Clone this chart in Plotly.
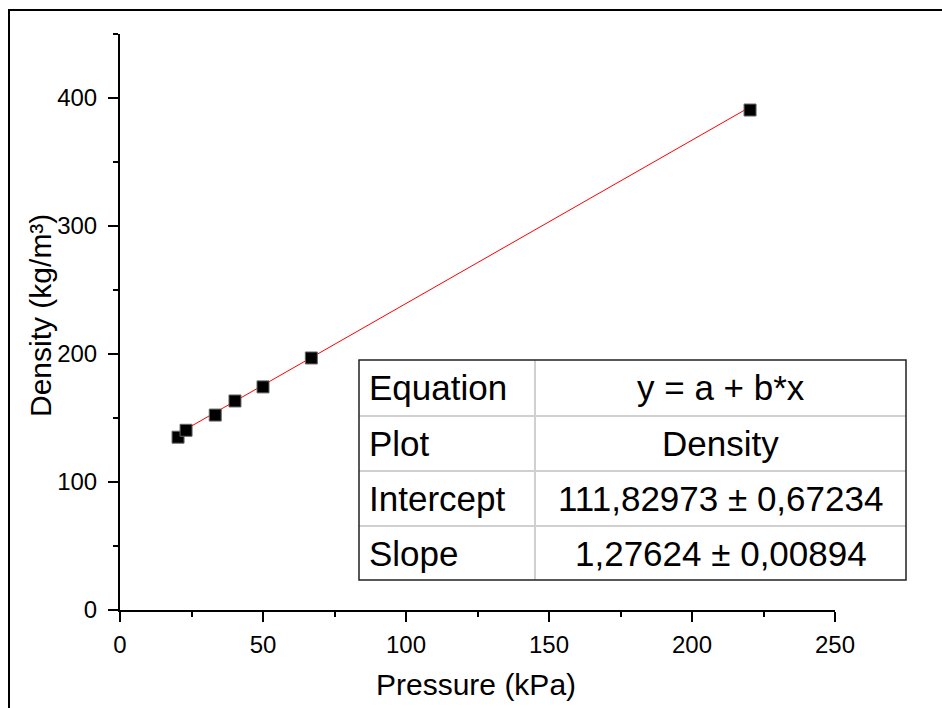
import plotly.graph_objects as go

# ---- data ----
pressure = [20.3, 23.1, 33.3, 40.2, 50.0, 66.9, 220.3]
density = [135.0, 140.4, 152.3, 163.3, 174.3, 196.9, 390.6]
intercept = 111.82973
slope = 1.27624
table_labels = ["Equation", "Plot", "Intercept", "Slope"]
table_values = ["y = a + b*x", "Density", "111,82973 ± 0,67234", "1,27624 ± 0,00894"]
x_ticks = [0, 50, 100, 150, 200, 250]
y_ticks = [0, 100, 200, 300, 400]

W, H = 942, 708
L, R, T, B = 120, 107, 34, 98
PW, PH = W - L - R, H - T - B

def px(x):
    return (x - L) / PW

def py(y):
    return (H - B - y) / PH

FONT = "Liberation Sans, Arial, sans-serif"

fig = go.Figure()
xfit = [min(pressure), max(pressure)]
yfit = [intercept + slope * v for v in xfit]
fig.add_trace(go.Scatter(x=xfit, y=yfit, mode="lines",
                         line=dict(color="#ff0000", width=1), showlegend=False))
fig.add_trace(go.Scatter(x=pressure, y=density, mode="markers",
                         marker=dict(symbol="square", size=12, color="black",
                                     line=dict(color="#666", width=1)),
                         showlegend=False))

axis_common = dict(showgrid=False, zeroline=False, showline=True, linecolor="black",
                   linewidth=2, ticks="outside", ticklen=10, tickwidth=2, tickcolor="black",
                   tickfont=dict(family=FONT, size=24, color="black"))
fig.update_xaxes(range=[0, 250], tickvals=x_ticks, ticklabelstandoff=2,
                 minor=dict(dtick=25, ticklen=5, tickwidth=2, tickcolor="black", ticks="outside"),
                 **axis_common)
fig.update_yaxes(range=[0, 450], tickvals=y_ticks, ticklabelstandoff=6,
                 minor=dict(dtick=50, ticklen=5, tickwidth=2, tickcolor="black", ticks="outside"),
                 **axis_common)

shapes = []
# outer frame
shapes.append(dict(type="rect", xref="paper", yref="paper", x0=px(9), x1=px(980),
                   y0=py(10), y1=py(760), line=dict(color="black", width=2)))
# table
tx0, tx1, tcol = 359, 906, 535
rows = [360, 416, 471, 526, 580]
for yv in rows[1:-1]:
    shapes.append(dict(type="line", xref="paper", yref="paper", x0=px(tx0), x1=px(tx1),
                       y0=py(yv), y1=py(yv), line=dict(color="#d0d0d0", width=2)))
shapes.append(dict(type="line", xref="paper", yref="paper", x0=px(tcol), x1=px(tcol),
                   y0=py(rows[0]), y1=py(rows[-1]), line=dict(color="#d0d0d0", width=2)))
shapes.append(dict(type="rect", xref="paper", yref="paper", x0=px(tx0), x1=px(tx1),
                   y0=py(rows[0]), y1=py(rows[-1]), line=dict(color="#222", width=1.5),
                   fillcolor="rgba(255,255,255,0)"))

annotations = []
for i, (lab, val) in enumerate(zip(table_labels, table_values)):
    yc = (rows[i] + rows[i + 1]) / 2
    annotations.append(dict(xref="paper", yref="paper", x=px(367), y=py(yc), text=lab,
                            showarrow=False, xanchor="left", yanchor="middle",
                            font=dict(family=FONT, size=35, color="black")))
    annotations.append(dict(xref="paper", yref="paper", x=px((tcol + tx1) / 2), y=py(yc),
                            text=val, showarrow=False, xanchor="center", yanchor="middle",
                            font=dict(family=FONT, size=35, color="black")))
# axis titles
annotations.append(dict(xref="paper", yref="paper", x=px(476), y=py(684), text="Pressure (kPa)",
                        showarrow=False, xanchor="center", yanchor="middle",
                        font=dict(family=FONT, size=30, color="black")))
annotations.append(dict(xref="paper", yref="paper", x=px(40), y=py(316), text="Density (kg/m³)",
                        showarrow=False, xanchor="center", yanchor="middle", textangle=-90,
                        font=dict(family=FONT, size=30, color="black")))

fig.update_layout(width=W, height=H, margin=dict(l=L, r=R, t=T, b=B),
                  paper_bgcolor="white", plot_bgcolor="white",
                  shapes=shapes, annotations=annotations)
fig.write_html("out.html")
